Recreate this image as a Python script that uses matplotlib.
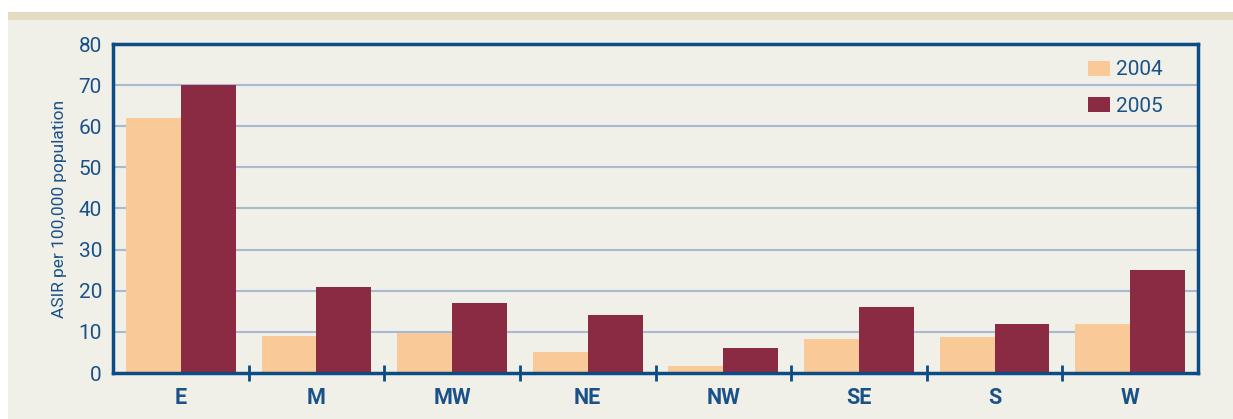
import matplotlib
matplotlib.use("Agg")
import matplotlib.pyplot as plt
import numpy as np
from matplotlib.patches import Rectangle, Patch

categories = ["E", "M", "MW", "NE", "NW", "SE", "S", "W"]
values_2004 = [62, 9, 9.7, 5, 1.8, 8.3, 8.8, 12]
values_2005 = [70, 21, 17, 14, 6, 16, 12, 25]
series_labels = ["2004", "2005"]
y_ticks = [0, 10, 20, 30, 40, 50, 60, 70, 80]

c2004 = "#F9CA98"
c2005 = "#8B2A43"
bg = "#F0EFE8"
band = "#E3DCC0"
blue = "#0B4C85"
txt = "#1A5288"
grid = "#A9B9D0"

plt.rcParams['font.family'] = ['Roboto', 'DejaVu Sans']

W, H = 1233, 419
fig = plt.figure(figsize=(W / 100, H / 100), dpi=100)
fig.patch.set_facecolor("white")
fig.patches.append(Rectangle((8 / W, 0), 1 - 8 / W, (H - 20) / H, transform=fig.transFigure,
                             facecolor=bg, edgecolor="none", zorder=-10))
fig.patches.append(Rectangle((8 / W, (H - 20) / H), 1 - 8 / W, 8 / H, transform=fig.transFigure,
                             facecolor=band, edgecolor="none", zorder=-10))

ax = fig.add_axes([113 / W, (H - 373) / H, (1198 - 113) / W, (373 - 44) / H])
ax.set_facecolor(bg)

x = np.arange(len(categories))
bw = 0.405
ax.bar(x - bw / 2, values_2004, width=bw, color=c2004, zorder=3, label=series_labels[0])
ax.bar(x + bw / 2, values_2005, width=bw, color=c2005, zorder=3, label=series_labels[1])

ax.set_xlim(-0.5, len(categories) - 0.5)
ax.set_ylim(0, 80)
ax.set_yticks(y_ticks)
for yv in y_ticks[1:-1]:
    ax.axhline(yv, color=grid, lw=1.5, zorder=1)

ax.set_xticks(x)
ax.set_xticklabels(categories, fontsize=15.5, fontweight='bold', color=txt)
ax.set_xticks(np.arange(0.5, len(categories) - 0.5, 1), minor=True)
ax.tick_params(axis='x', which='major', length=0, pad=10)
ax.tick_params(axis='x', which='minor', length=11, width=2, direction='inout', color=blue)
ax.tick_params(axis='y', length=0, pad=8, labelsize=15, labelcolor=txt)

for s in ax.spines.values():
    s.set_color(blue)
    s.set_linewidth(2.5)
    s.set_zorder(5)

ax.set_ylabel("ASIR per 100,000 population", fontsize=12.5, color=txt, labelpad=8)

handles = [Patch(facecolor=c2004, edgecolor='none'), Patch(facecolor=c2005, edgecolor='none')]
ax.legend(handles, series_labels, loc='upper left', bbox_to_anchor=(0.8986, 0.95),
          frameon=False, fontsize=15, handlelength=1.06, handleheight=0.72,
          handletextpad=0.3, labelspacing=0.85, borderpad=0, borderaxespad=0,
          labelcolor=txt)

fig.savefig("out.png", dpi=100, facecolor=fig.get_facecolor())
